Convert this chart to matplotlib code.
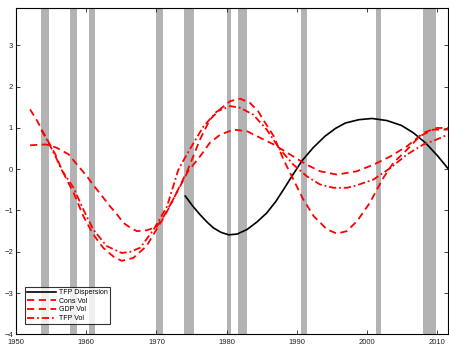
import matplotlib
matplotlib.use("Agg")
import matplotlib.pyplot as plt

# NBER recession bands (start, end)
rec_start = [1953.50, 1957.67, 1960.33, 1969.92, 1973.92, 1980.08, 1981.58, 1990.58, 2001.25, 2007.92]
rec_end   = [1954.75, 1958.67, 1961.25, 1971.00, 1975.33, 1980.67, 1982.92, 1991.50, 2002.00, 2009.75]

# TFP Dispersion
disp_years = [1974.1, 1975.2, 1976.2, 1977.2, 1978.1, 1979.2, 1980.3, 1981.5, 1982.9, 1984.3,
              1985.7, 1987.0, 1988.1, 1989.4, 1990.7, 1992.3, 1994.0, 1995.5, 1996.9, 1998.8,
              2000.7, 2002.8, 2004.9, 2006.6, 2008.3, 2010.0, 2011.5]
disp_vals = [-0.65, -0.90, -1.10, -1.28, -1.42, -1.53, -1.59, -1.57, -1.46, -1.28,
             -1.06, -0.78, -0.49, -0.14, 0.20, 0.52, 0.80, 0.99, 1.12, 1.20,
             1.23, 1.18, 1.06, 0.88, 0.64, 0.33, 0.02]

# Cons Vol
cons_years = [1952.0, 1953.0, 1954.2, 1955.0, 1955.8, 1957.5, 1958.7, 1960.1, 1961.0, 1962.2,
              1963.4, 1964.4, 1965.3, 1966.3, 1967.2, 1968.6, 1970.0, 1971.0, 1971.9, 1973.1,
              1974.5, 1976.2, 1977.6, 1979.1, 1981.0, 1982.9, 1984.8, 1986.7, 1989.0, 1991.4,
              1993.3, 1995.7, 1998.5, 2000.9, 2003.3, 2005.7, 2008.0, 2009.9, 2011.5]
cons_vals = [0.58, 0.59, 0.60, 0.57, 0.52, 0.36, 0.11, -0.17, -0.38, -0.64,
             -0.90, -1.10, -1.30, -1.42, -1.50, -1.48, -1.40, -1.15, -0.88, -0.50,
             -0.05, 0.31, 0.64, 0.84, 0.96, 0.92, 0.76, 0.60, 0.36, 0.11,
             -0.05, -0.13, -0.05, 0.11, 0.31, 0.56, 0.88, 1.00, 1.00]

# GDP Vol
gdp_years = [1952.0, 1953.0, 1953.7, 1954.7, 1955.6, 1956.5, 1957.3, 1958.2, 1959.6, 1961.0,
             1962.4, 1963.9, 1965.05, 1966.7, 1968.6, 1970.0, 1971.0, 1971.9, 1973.2, 1974.5,
             1976.2, 1977.6, 1979.1, 1980.5, 1981.9, 1983.3, 1984.5, 1985.2, 1986.7, 1988.1,
             1989.5, 1990.9, 1992.4, 1994.3, 1995.7, 1997.1, 1998.6, 2000.4, 2001.4, 2002.3,
             2003.7, 2005.7, 2007.5, 2009.4, 2011.5]
gdp_vals = [1.45, 1.18, 0.95, 0.64, 0.36, 0.00, -0.28, -0.57, -1.14, -1.58,
            -1.90, -2.12, -2.22, -2.15, -1.86, -1.46, -1.18, -0.90, -0.45, 0.00,
            0.72, 1.20, 1.46, 1.65, 1.71, 1.61, 1.40, 1.20, 0.80, 0.23,
            -0.25, -0.73, -1.14, -1.46, -1.56, -1.50, -1.25, -0.81, -0.49, -0.21,
            0.15, 0.48, 0.80, 0.96, 0.96]

# TFP Vol
tfpv_years = [1953.6, 1954.7, 1955.6, 1956.5, 1958.2, 1959.6, 1961.0, 1962.9, 1965.05, 1966.3,
              1967.7, 1969.6, 1971.5, 1973.1, 1974.2, 1975.3, 1976.7, 1978.6, 1980.5, 1981.9,
              1983.8, 1985.7, 1987.6, 1989.5, 1991.4, 1993.3, 1995.2, 1997.1, 1998.5, 2000.9,
              2003.3, 2005.7, 2008.0, 2009.9, 2011.5]
tfpv_vals = [0.95, 0.62, 0.32, -0.02, -0.45, -0.98, -1.46, -1.86, -2.03, -2.00,
             -1.90, -1.46, -0.90, -0.02, 0.32, 0.64, 1.04, 1.40, 1.53, 1.49,
             1.32, 0.96, 0.48, 0.11, -0.17, -0.37, -0.45, -0.45, -0.39, -0.25,
             0.03, 0.36, 0.60, 0.72, 0.84]

xticks = [1950, 1960, 1970, 1980, 1990, 2000, 2010]
yticks = [-4, -3, -2, -1, 0, 1, 2, 3]

plt.rcParams['font.family'] = ['Liberation Sans', 'DejaVu Sans']

fig = plt.figure(figsize=(4.49, 3.45), dpi=100)
ax = fig.add_axes([0.0356, 0.031, 0.962, 0.945])

for s, e in zip(rec_start, rec_end):
    ax.axvspan(s, e, color='#b3b3b3', lw=0, zorder=0)

dash = (0, (4, 2.5))
dashdot = (0, (4, 1.6, 1, 1.6))
ax.plot(disp_years, disp_vals, color='black', lw=1.2, label='TFP Dispersion', zorder=3)
ax.plot(cons_years, cons_vals, color='red', lw=1.3, ls=dash, label='Cons Vol', zorder=3)
ax.plot(gdp_years, gdp_vals, color='red', lw=1.3, ls=dash, label='GDP Vol', zorder=3)
ax.plot(tfpv_years, tfpv_vals, color='red', lw=1.3, ls=dashdot, label='TFP Vol', zorder=3)

ax.set_xlim(1950, 2011.5)
ax.set_ylim(-4, 3.9)
ax.set_xticks(xticks)
ax.set_yticks(yticks)
ax.tick_params(direction='in', length=3, width=0.6, labelsize=5.5, pad=2,
               top=True, right=True, colors='#222222')
ax.tick_params(axis='x', pad=3.5)
for sp in ax.spines.values():
    sp.set_linewidth(0.8)

leg = ax.legend(loc='lower left', fontsize=5, frameon=True, fancybox=False,
                borderpad=0.3, labelspacing=0.25, handlelength=4.2, handletextpad=0.4,
                bbox_to_anchor=(0.012, 0.02))
leg.get_frame().set_edgecolor('black')
leg.get_frame().set_linewidth(0.8)

fig.savefig('out.png', dpi=100)
